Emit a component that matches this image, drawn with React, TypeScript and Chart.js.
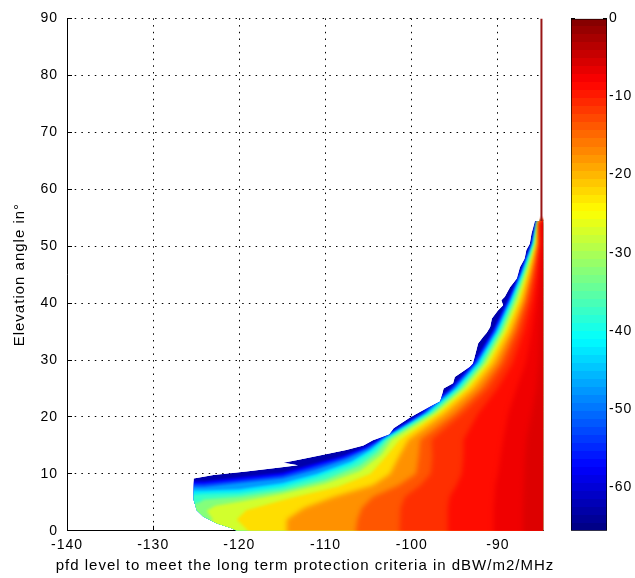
import React, { useEffect, useRef } from 'react';
import { Chart, registerables } from 'chart.js';

// ---- axes ----
const X_MIN = -140;
const X_MAX = -84.7;
const Y_MIN = 0;
const Y_MAX = 90;
const X_STEP = 10;
const Y_STEP = 10;
const CB_MIN = -65.6;
const CB_MAX = 0;
const CB_STEP = 10;
const X_TITLE = 'pfd level to meet the long term protection criteria in dBW/m2/MHz';
const Y_TITLE = 'Elevation angle in°';

// ---- data region ----
const X_RIGHT = -84.75; // right edge of computed region
const LINE_X = -84.95; // thin column above the region
const LINE_Y = [54.4, 90];

// outer edge of the computed region (level CB_MIN)
const BOUNDARY: [number, number][] = [
  [-120.3, 0], [-121.0, 0.5], [-122.6, 1.3], [-124.2, 2.5], [-124.95, 3.6], [-125.3, 5.4],
  [-125.3, 9.2], [-123.0, 9.8], [-119.2, 10.4], [-115.3, 11.1], [-113.2, 11.5], [-114.9, 11.95],
  [-113.4, 12.4], [-111.4, 13.0], [-107.6, 14.2], [-105.6, 15.0], [-104.5, 15.9], [-102.6, 16.9],
  [-102.1, 18.0], [-100.2, 19.9], [-99.0, 20.9], [-97.9, 21.8], [-96.7, 22.7], [-96.5, 23.8],
  [-96.3, 25.0], [-95.2, 25.9], [-95.0, 27.0], [-93.25, 28.8], [-92.9, 29.4], [-92.5, 31.7],
  [-92.3, 32.9], [-91.7, 34.1], [-91.3, 34.8], [-90.9, 35.8], [-90.7, 37.3], [-90.0, 38.7],
  [-89.4, 39.6], [-89.6, 40.5], [-89.2, 41.1], [-88.6, 42.8], [-87.8, 44.3], [-87.45, 46.3],
  [-86.9, 47.8], [-86.7, 49.3], [-86.3, 50.4], [-86.1, 52.2], [-85.7, 54.4],
];

// contour lines (left outline of the region at or above each level)
const C_M60: [number, number][] = [
  [-126, 0], [-126, 8.7], [-124.1, 8.7], [-120, 9.4], [-115, 10.2], [-112, 11.5], [-108, 13.2],
  [-105.5, 14.7], [-103.9, 16], [-99.0, 20.6], [-95.55, 25], [-92.9, 29.4], [-90.65, 35],
  [-88.9, 40.5], [-87.55, 45], [-86.15, 50.4], [-85.6, 54.4],
];
const C_M55: [number, number][] = [
  [-126, 0], [-126, 8.2], [-124.1, 8.2], [-120, 8.9], [-115, 9.7], [-112, 11.0], [-108, 12.8],
  [-105.3, 14.5], [-103.7, 16], [-98.75, 20.6], [-95.35, 25], [-92.7, 29.4], [-90.5, 35],
  [-88.75, 40.5], [-87.45, 45], [-86.07, 50.4], [-85.55, 54.4],
];
const C_M50: [number, number][] = [
  [-126, 0], [-126, 7.7], [-124.1, 7.7], [-120, 8.4], [-115, 9.2], [-111, 10.8], [-107.5, 12.6],
  [-105, 14.4], [-103.5, 16], [-98.5, 20.6], [-95.1, 25], [-92.5, 29.4], [-90.3, 35],
  [-88.6, 40.5], [-87.33, 45], [-86.0, 50.4], [-85.5, 54.4],
];
const C_M45: [number, number][] = [
  [-126, 0], [-126, 7.1], [-124.1, 7.1], [-120, 7.3], [-115, 8.4], [-111, 10.0], [-107, 12.2],
  [-104.8, 14.2], [-103.3, 16], [-98.25, 20.6], [-94.85, 25], [-92.3, 29.4], [-90.1, 35],
  [-88.45, 40.5], [-87.22, 45], [-85.93, 50.4], [-85.45, 54.4],
];
const C_M40: [number, number][] = [
  [-126, 0], [-126, 6.3], [-124.1, 6.5], [-120, 6.7], [-115, 7.8], [-111, 9.5], [-107, 11.7],
  [-104.5, 14.0], [-103.1, 16], [-98.0, 20.6], [-94.6, 25], [-92.1, 29.4], [-89.9, 35],
  [-88.3, 40.5], [-87.1, 45], [-85.85, 50.4], [-85.4, 54.4],
];
const C_M35: [number, number][] = [
  [-126, 0], [-126, 4.4], [-124.6, 5.0], [-124.1, 5.5], [-120, 6.0], [-115, 7.1], [-110, 9.0],
  [-106, 11.5], [-104, 13.8], [-102.8, 16], [-97.7, 20.6], [-94.3, 25], [-91.8, 29.4],
  [-89.7, 35], [-88.1, 40.5], [-86.95, 45], [-85.75, 50.4], [-85.35, 54.4],
];
const C_M30: [number, number][] = [
  [-126, 0], [-126, 1.5], [-123.0, 1.8], [-123.8, 3.5], [-122.8, 4.4], [-120, 5.1], [-115, 6.5],
  [-110, 8.3], [-106, 10.5], [-103.5, 13.4], [-102.3, 16], [-97.35, 20.6], [-93.95, 25],
  [-91.5, 29.4], [-89.4, 35], [-87.85, 40.5], [-86.8, 45], [-85.65, 50.4], [-85.3, 54.4],
];
const C_M25: [number, number][] = [
  [-119, 0], [-120.3, 2], [-119.2, 3.6], [-114.5, 5.6], [-108.5, 7.8], [-104.8, 10], [-103, 13],
  [-101.4, 16], [-96.9, 20.6], [-93.5, 25], [-91.1, 29.4], [-89.05, 35], [-87.5, 40.5],
  [-86.55, 45], [-85.5, 50.4], [-85.25, 54.4],
];
const C_M20: [number, number][] = [
  [-114.5, 0], [-114.5, 2], [-112.5, 4], [-109, 6], [-104.5, 8], [-102.5, 10], [-101.5, 13],
  [-100.4, 16], [-96.2, 20.6], [-92.9, 25], [-90.55, 29.4], [-88.6, 35], [-87.15, 40.5],
  [-86.3, 45], [-85.35, 50.4], [-85.2, 54.4],
];
const C_M15: [number, number][] = [
  [-106.5, 0], [-106.3, 2], [-105.8, 4], [-104.5, 6], [-101.5, 8], [-99.5, 10], [-99.2, 13],
  [-99.0, 16], [-95.0, 20.6], [-91.95, 25], [-89.8, 29.4], [-88.05, 35], [-86.75, 40.5],
  [-86.0, 45], [-85.2, 50.4], [-85.15, 54.4],
];
const C_M12_5: [number, number][] = [
  [-101.4, 0], [-101.3, 4], [-100.8, 6], [-99.0, 8], [-97.8, 10], [-97.6, 13], [-97.7, 16],
  [-94.1, 20.6], [-91.15, 25], [-89.2, 29.4], [-87.6, 35], [-86.45, 40.5], [-85.8, 45],
  [-85.1, 50.4], [-85.1, 54.4],
];
const C_M10: [number, number][] = [
  [-95.8, 0], [-95.8, 4], [-95.6, 6], [-94.8, 8], [-94.2, 10], [-94.0, 13], [-94.0, 16],
  [-92.3, 20.6], [-90.05, 25], [-88.3, 29.4], [-87.0, 35], [-86.05, 40.5], [-85.5, 45],
  [-85.0, 50.4], [-85.05, 54.4],
];
const C_M8: [number, number][] = [
  [-90.5, 0], [-90.5, 4], [-90.3, 8], [-90.0, 10], [-89.7, 13], [-89.4, 16], [-88.8, 20.6],
  [-87.85, 25], [-86.8, 29.4], [-86.1, 35], [-85.55, 40.5], [-85.2, 45], [-84.9, 50.4],
  [-84.95, 54.4],
];
const C_M6_5: [number, number][] = [
  [-87.1, 0], [-87.1, 4], [-87.0, 8], [-86.9, 12], [-86.7, 16], [-86.1, 20.6], [-85.55, 25],
  [-85.3, 29.4], [-85.2, 35], [-85.1, 40.5], [-84.95, 45], [-84.8, 50.4], [-84.9, 54.4],
];

const LEVELS = [-65.6, -60, -55, -50, -45, -40, -35, -30, -25, -20, -15, -12.5, -10, -8, -6.5];
const TOP_VALUE = -5.5;
const CONTOURS = [
  BOUNDARY, C_M60, C_M55, C_M50, C_M45, C_M40, C_M35, C_M30, C_M25, C_M20, C_M15,
  C_M12_5, C_M10, C_M8, C_M6_5,
];

// ---- styles ----
const FONT = "'Liberation Sans', Arial, Helvetica, sans-serif";
const LINE_COLOR = '#981616';
const EDGE_PAD = 1.2; // shapes reach past the clipped edge so the soft rim stays outside

function softnessFor(level: number): number {
  if (level <= -65) return 0;
  if (level <= -45) return 1;
  if (level <= -25) return 1.6;
  return 2.6;
}

function jetRGB(t: number): [number, number, number] {
  const c = Math.min(1, Math.max(0, t));
  const f = (k: number) => Math.round(255 * Math.min(1, Math.max(0, 1.5 - Math.abs(4 * c - k))));
  return [f(3), f(2), f(1)];
}
function jet(v: number): string {
  const [r, g, b] = jetRGB((v - CB_MIN) / (CB_MAX - CB_MIN));
  return `rgb(${r},${g},${b})`;
}

const spacingPlugin = {
  id: 'letterSpacing',
  beforeUpdate(chart: any) {
    chart.ctx.letterSpacing = '1px';
  },
  beforeDraw(chart: any) {
    chart.ctx.letterSpacing = '1px';
  },
};

// registered before the built-in plugins so that its per-dataset hook runs before the filler
const clipPlugin = {
  id: 'regionClip',
  beforeDatasetsDraw(chart: any) {
    const { ctx, scales } = chart;
    const xs = scales.x;
    const ys = scales.y;
    ctx.save();
    ctx.beginPath();
    BOUNDARY.forEach(([bx, by], i) => {
      const px = xs.getPixelForValue(bx);
      const py = ys.getPixelForValue(by);
      if (i === 0) ctx.moveTo(px, py);
      else ctx.lineTo(px, py);
    });
    const last = BOUNDARY[BOUNDARY.length - 1];
    ctx.lineTo(xs.getPixelForValue(X_RIGHT), ys.getPixelForValue(last[1]));
    ctx.lineTo(xs.getPixelForValue(X_RIGHT), ys.getPixelForValue(0));
    ctx.closePath();
    const lx = xs.getPixelForValue(LINE_X);
    const ly0 = ys.getPixelForValue(LINE_Y[1]);
    const ly1 = ys.getPixelForValue(LINE_Y[0]);
    ctx.rect(lx - 2, ly0 - 1, 4, ly1 - ly0 + 1);
    ctx.clip();
  },
  beforeDatasetDraw(chart: any, args: any) {
    const ds = chart.data.datasets[args.index];
    const soft = ds && ds.softness ? ds.softness : 0;
    chart.ctx.filter = soft > 0 ? `blur(${soft}px)` : 'none';
  },
  afterDatasetDraw(chart: any) {
    chart.ctx.filter = 'none';
  },
  afterDatasetsDraw(chart: any) {
    chart.ctx.filter = 'none';
    chart.ctx.restore();
  },
};

Chart.register(clipPlugin as any);
Chart.register(...registerables);

export default function App() {
  const mainRef = useRef<HTMLCanvasElement>(null);
  const cbRef = useRef<HTMLCanvasElement>(null);

  useEffect(() => {
    if (!mainRef.current || !cbRef.current) return;

    const polygons = CONTOURS.map((pts, i) => {
      const next = i + 1 < LEVELS.length ? LEVELS[i + 1] : TOP_VALUE;
      const color = jet((LEVELS[i] + next) / 2);
      const lastY = pts[pts.length - 1][1];
      const outline: [number, number][] = [
        [pts[0][0], Y_MIN - EDGE_PAD],
        ...pts,
        [X_RIGHT + EDGE_PAD, lastY],
        [X_RIGHT + EDGE_PAD, Y_MIN - EDGE_PAD],
      ];
      return {
        label: `level ${LEVELS[i]}`,
        data: outline.map(([x, y]) => ({ x, y })),
        showLine: true,
        fill: 'shape',
        backgroundColor: color,
        borderColor: 'transparent',
        borderWidth: 0,
        borderDash: [4, 4],
        pointRadius: 0,
        pointHoverRadius: 0,
        tension: 0,
        order: 100 - i,
        softness: softnessFor(LEVELS[i]),
      };
    });

    const column = {
      label: 'column',
      data: [
        { x: LINE_X, y: LINE_Y[0] },
        { x: LINE_X, y: LINE_Y[1] },
      ],
      showLine: true,
      fill: false,
      borderColor: LINE_COLOR,
      borderWidth: 2,
      pointRadius: 0,
      pointHoverRadius: 0,
      order: 0,
    };

    const tickFont = { family: FONT, size: 14 };

    const main = new Chart(mainRef.current, {
      type: 'scatter',
      data: { datasets: [column, ...polygons] as any },
      plugins: [spacingPlugin],
      options: {
        animation: false,
        responsive: false,
        events: [],
        layout: { padding: { top: 18.4, right: 25, left: 0, bottom: 0 } },
        plugins: {
          legend: { display: false },
          tooltip: { enabled: false },
          title: {
            display: true,
            position: 'bottom',
            text: X_TITLE,
            color: '#000',
            font: { family: FONT, size: 15, weight: 'normal', lineHeight: 1.2 },
            padding: { top: 2, bottom: 3 },
          },
        },
        scales: {
          x: {
            type: 'linear',
            min: X_MIN,
            max: X_MAX,
            ticks: {
              stepSize: X_STEP,
              includeBounds: false,
              color: '#000',
              font: tickFont,
              padding: 11,
              maxRotation: 0,
              autoSkip: false,
            },
            grid: {
              color: '#000',
              lineWidth: 1,
              drawTicks: true,
              tickLength: -5,
              tickColor: '#000',
              tickWidth: 1,
            },
            border: { display: true, color: '#000', width: 1, dash: [1.5, 5.2] },
            afterFit: (s: any) => {
              s.height = 24.2;
              s.paddingLeft = 16;
              s.paddingRight = 16;
            },
          },
          y: {
            type: 'linear',
            min: Y_MIN,
            max: Y_MAX,
            ticks: {
              stepSize: Y_STEP,
              includeBounds: false,
              color: '#000',
              font: tickFont,
              padding: 14,
              autoSkip: false,
            },
            grid: {
              color: '#000',
              lineWidth: 1,
              drawTicks: true,
              tickLength: -5,
              tickColor: '#000',
              tickWidth: 1,
            },
            border: { display: true, color: '#000', width: 1, dash: [1.5, 5.2] },
            title: {
              display: true,
              text: Y_TITLE,
              color: '#000',
              font: { family: FONT, size: 15 },
              padding: { top: 10.6, bottom: 0 },
            },
            afterFit: (s: any) => {
              s.width = 67;
              s.paddingTop = 8;
              s.paddingBottom = 8;
            },
          },
          yRightSpace: {
            type: 'linear',
            position: 'right',
            min: 0,
            max: 1,
            ticks: { display: false },
            grid: { display: false, drawTicks: false },
            border: { display: false },
            afterFit: (s: any) => {
              s.width = 66.4;
              s.paddingTop = 0;
              s.paddingBottom = 0;
            },
          },
        },
      } as any,
    });

    const cb = new Chart(cbRef.current, {
      type: 'bar',
      data: {
        labels: ['colorbar'],
        datasets: [
          {
            data: [[CB_MIN, CB_MAX]] as any,
            backgroundColor: (c: any) => {
              const area = c.chart.chartArea;
              if (!area) return '#000080';
              const g = c.chart.ctx.createLinearGradient(0, area.bottom, 0, area.top);
              const n = 64;
              for (let k = 0; k < n; k++) {
                const [r, gg, b] = jetRGB((k + 0.5) / n);
                const col = `rgb(${r},${gg},${b})`;
                g.addColorStop(k / n, col);
                g.addColorStop((k + 1) / n, col);
              }
              return g;
            },
            borderColor: '#000',
            borderWidth: 1,
            borderSkipped: false,
            barPercentage: 1,
            categoryPercentage: 1,
          },
        ],
      },
      plugins: [spacingPlugin],
      options: {
        animation: false,
        responsive: false,
        events: [],
        layout: { padding: { top: 18.4, right: 0, left: 11, bottom: 47.2 } },
        plugins: { legend: { display: false }, tooltip: { enabled: false }, regionClip: false },
        scales: {
          x: { display: false },
          y: {
            position: 'right',
            min: CB_MIN,
            max: CB_MAX,
            ticks: {
              stepSize: CB_STEP,
              includeBounds: false,
              color: '#000',
              font: tickFont,
              padding: 6,
              autoSkip: false,
            },
            grid: {
              display: true,
              drawOnChartArea: false,
              drawTicks: true,
              tickLength: -4,
              tickColor: '#000',
              tickWidth: 1,
            },
            border: { display: false },
            afterFit: (s: any) => {
              s.width = 28;
              s.paddingTop = 8;
              s.paddingBottom = 8;
            },
          },
          yLeftTicks: {
            position: 'left',
            min: CB_MIN,
            max: CB_MAX,
            ticks: { stepSize: CB_STEP, includeBounds: false, display: false },
            grid: {
              display: true,
              drawOnChartArea: false,
              drawTicks: true,
              tickLength: -4,
              tickColor: '#000',
              tickWidth: 1,
            },
            border: { display: false },
            afterFit: (s: any) => {
              s.width = 0;
              s.paddingTop = 0;
              s.paddingBottom = 0;
            },
          },
        },
      } as any,
    });

    return () => {
      main.destroy();
      cb.destroy();
    };
  }, []);

  return (
    <div
      style={{
        position: 'fixed',
        left: 0,
        top: 0,
        width: 635,
        height: 578,
        background: '#fff',
        overflow: 'hidden',
      }}
    >
      <canvas ref={mainRef} width={635} height={578} style={{ position: 'absolute', left: 0, top: 0 }} />
      <canvas ref={cbRef} width={75} height={578} style={{ position: 'absolute', left: 560, top: 0 }} />
    </div>
  );
}
